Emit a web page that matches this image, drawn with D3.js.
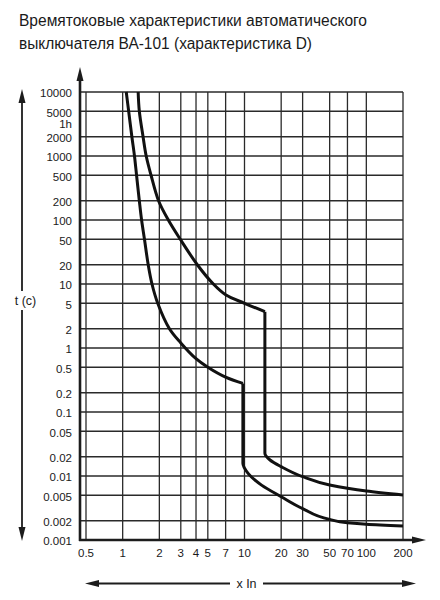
<!DOCTYPE html>
<html><head><meta charset="utf-8">
<script src="https://cdn.jsdelivr.net/npm/d3@7"></script>
<style>body{margin:0;background:#fff}svg{display:block}text{font-family:"Liberation Sans",Arial,Helvetica,sans-serif;fill:#1a1a1a}</style>
</head><body><svg id="c" width="440" height="600"></svg>
<script>
const titleLines = ["Времятоковые характеристики автоматического", "выключателя ВА-101 (характеристика D)"];
const xTicks = [0.5, 1, 2, 3, 4, 5, 7, 10, 20, 30, 50, 70, 100, 200];
const yTicks = [10000, 5000, 2000, 1000, 500, 200, 100, 50, 20, 10, 5, 2, 1, 0.5, 0.2, 0.1, 0.05, 0.02, 0.01, 0.005, 0.002, 0.001];
const hourMark = [3600, "1h"];
const yLabel = "t (c)";
const xLabel = "x In";
// lower curve (x In, t s): thermal part and magnetic part
const lowerThermal = [[1.07,10000],[1.12,5000],[1.19,2000],[1.25,1000],[1.30,500],[1.37,200],[1.43,100],[1.51,50],[1.62,20],[1.74,10],[1.94,5],[2.42,2],[3.0,1.2],[4.0,0.68],[5.0,0.5],[7.0,0.35],[9.7,0.28]];
const lowerMagnetic = [[9.7,0.28],[9.7,0.0158],[10.7,0.011],[13.8,0.0072],[20,0.00475],[30,0.0031],[50,0.0021],[70,0.00186],[100,0.00176],[200,0.00165]];
// upper curve
const upperThermal = [[1.34,10000],[1.37,5000],[1.47,2000],[1.56,1000],[1.71,500],[1.97,200],[2.37,100],[2.97,50],[4.1,20],[5.55,10],[7,6.8],[10,5],[14.7,3.7]];
const upperMagnetic = [[14.7,3.7],[14.7,0.0227],[16.2,0.0178],[20,0.014],[30,0.00975],[50,0.00723],[70,0.00643],[100,0.00583],[200,0.00505]];

const svg = d3.select("#c");
const x = d3.scaleLog().domain([0.5, 200]).range([86, 403]);
const y = d3.scaleLog().domain([0.001, 10000]).range([540, 92]);
const axX = 80, axY = 540;
const ink = "#1c1c1c";

// title
svg.selectAll("text.title").data(titleLines).join("text")
  .attr("class","title").attr("x",19).attr("y",(d,i)=>25.5+i*23.5)
  .attr("font-size",16).attr("textLength",(d,i)=>i===0?348:293)
  .attr("lengthAdjust","spacingAndGlyphs").text(d=>d);

// grid
const g = svg.append("g");
g.selectAll("line.vg").data(xTicks).join("line")
  .attr("x1",d=>x(d)).attr("x2",d=>x(d)).attr("y1",y(10000)).attr("y2",axY)
  .attr("stroke","#2a2a2a").attr("stroke-width",1.3);
g.selectAll("line.hg").data(yTicks).join("line")
  .attr("x1",axX).attr("x2",x(200)).attr("y1",d=>y(d)).attr("y2",d=>y(d))
  .attr("stroke","#2a2a2a").attr("stroke-width",1.3);

// axes lines with arrows
g.append("line").attr("x1",axX).attr("x2",axX).attr("y1",axY+1).attr("y2",78)
  .attr("stroke",ink).attr("stroke-width",2.6);
g.append("path").attr("d",`M${axX},67 L${axX-3.5},81 L${axX+3.5},81 Z`).attr("fill",ink);
g.append("line").attr("x1",axX-1).attr("x2",414).attr("y1",axY).attr("y2",axY)
  .attr("stroke",ink).attr("stroke-width",2.6);
g.append("path").attr("d",`M426,${axY} L412,${axY-3.5} L412,${axY+3.5} Z`).attr("fill",ink);

// tick labels
svg.selectAll("text.yt").data(yTicks).join("text")
  .attr("x",72).attr("y",d=>y(d)+5.3).attr("text-anchor","end")
  .attr("font-size",11.5).text(d=>String(d));
svg.append("text").attr("x",72).attr("y",y(hourMark[0])+8).attr("text-anchor","end")
  .attr("font-size",11.5).text(hourMark[1]);
svg.selectAll("text.xt").data(xTicks).join("text")
  .attr("x",d=>x(d)).attr("y",556.5).attr("text-anchor","middle")
  .attr("font-size",11.5).text(d=>String(d));

// side arrows
svg.append("line").attr("x1",22).attr("x2",22).attr("y1",100).attr("y2",291).attr("stroke",ink).attr("stroke-width",1.8);
svg.append("path").attr("d","M22,89 L18.5,103 L25.5,103 Z").attr("fill",ink);
svg.append("line").attr("x1",22).attr("x2",22).attr("y1",310).attr("y2",530).attr("stroke",ink).attr("stroke-width",1.8);
svg.append("path").attr("d","M22,541 L18.5,527 L25.5,527 Z").attr("fill",ink);
svg.append("text").attr("x",25.5).attr("y",304.5).attr("text-anchor","middle").attr("font-size",12.5).text(yLabel);

svg.append("line").attr("x1",96).attr("x2",230).attr("y1",583.5).attr("y2",583.5).attr("stroke",ink).attr("stroke-width",1.8);
svg.append("path").attr("d","M85,583.5 L99,580 L99,587 Z").attr("fill",ink);
svg.append("line").attr("x1",263).attr("x2",404).attr("y1",583.5).attr("y2",583.5).attr("stroke",ink).attr("stroke-width",1.8);
svg.append("path").attr("d","M416,583.5 L402,580 L402,587 Z").attr("fill",ink);
svg.append("text").attr("x",246.5).attr("y",587.5).attr("text-anchor","middle").attr("font-size",12.5).text(xLabel);

// curves
const lineA = d3.line().x(d=>x(d[0])).y(d=>y(d[1])).curve(d3.curveCatmullRom.alpha(0.5));
const lineB = d3.line().x(d=>x(d[0])).y(d=>y(d[1])).curve(d3.curveMonotoneY);
const cg = svg.append("g").attr("fill","none").attr("stroke","#111").attr("stroke-width",3).attr("stroke-linejoin","miter");
cg.append("path").attr("d",lineA(lowerThermal));
cg.append("path").attr("d",lineB(lowerMagnetic));
cg.append("path").attr("d",lineA(upperThermal));
cg.append("path").attr("d",lineB(upperMagnetic));
</script></body></html>
